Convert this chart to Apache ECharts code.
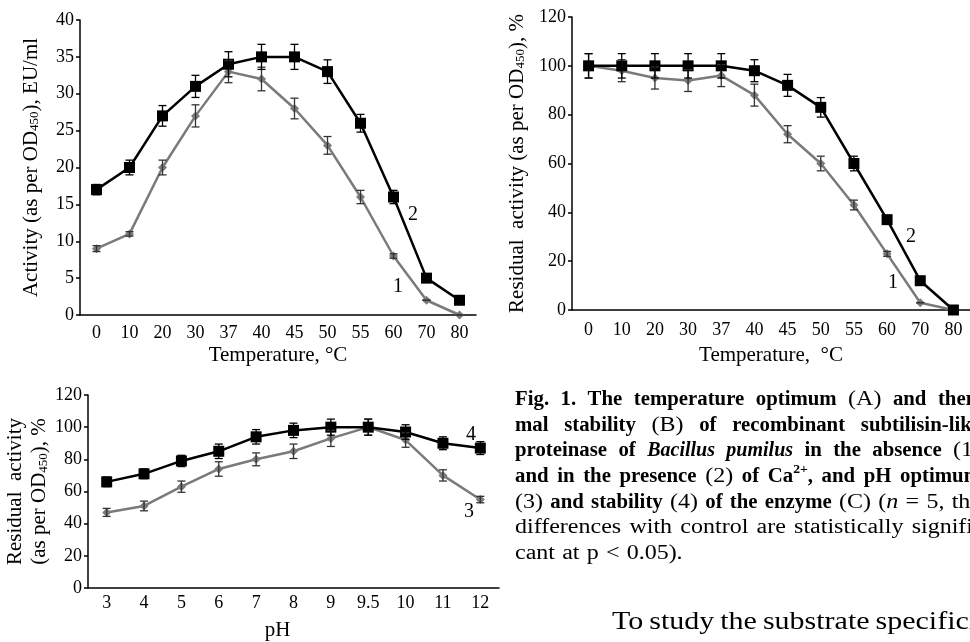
<!DOCTYPE html>
<html><head><meta charset="utf-8">
<script src="https://cdn.jsdelivr.net/npm/echarts@6/dist/echarts.min.js"></script>
<style>html,body{margin:0;padding:0;background:#fff;}#c{width:970px;height:642px;}</style>
</head><body><div id="c"></div>
<script>
// ---------- data ----------
const tempCats = ['0','10','20','30','37','40','45','50','55','60','70','80'];
const optNoCa = [9,11,20,27,33,32,28,23,16,8,2,0];
const optNoCaErr = [0.4,0.3,1,1.5,1.5,1.6,1.4,1.2,0.9,0.3,0,0];
const optCa = [17,20,27,31,34,35,35,33,26,16,5,2];
const optCaErr = [0.7,1,1.4,1.5,1.7,1.7,1.7,1.6,1.2,0.9,0,0];
const stabNoCa = [100,98,95,94,96,88,72,60,43,23,3,0];
const stabNoCaErr = [5,4.5,4.5,4.5,4.5,4.5,3.5,3,2,1,0,0];
const stabCa = [100,100,100,100,100,98,92,83,60,37,12,0];
const stabCaErr = [5,5,5,5,5,4.5,4.5,4,3,1,0,0];
const phCats = ['3','4','5','6','7','8','9','9.5','10','11','12'];
const phOpt = [47,51,63,74,80,85,93,100,92,70,55];
const phOptErr = [2.5,3,3.5,4.5,4,4.5,5,5,4.5,3.5,2];
const phStab = [66,71,79,85,94,98,100,100,97,90,87];
const phStabErr = [3,3,3.5,4.5,4.5,4.5,5,5,4.5,4,4];

const SERIF = '"Liberation Serif","Times New Roman",serif';
const BLACK = '#000';
const GREY = '#7a7a7a';

function errData(vals, errs){ return vals.map((v,i)=>[i, v-errs[i], v+errs[i]]); }
function errSeries(idx, vals, errs, color){
  return {
    type:'custom', xAxisIndex:idx, yAxisIndex:idx, z:5, silent:true,
    data: errData(vals, errs),
    renderItem:function(params, api){
      const x = api.value(0);
      const lo = api.coord([x, api.value(1)]);
      const hi = api.coord([x, api.value(2)]);
      const h = 4;
      const st = {stroke:color, lineWidth:1.3};
      return {type:'group', children:[
        {type:'line', shape:{x1:lo[0],y1:lo[1],x2:hi[0],y2:hi[1]}, style:st},
        {type:'line', shape:{x1:lo[0]-h,y1:lo[1],x2:lo[0]+h,y2:lo[1]}, style:st},
        {type:'line', shape:{x1:hi[0]-h,y1:hi[1],x2:hi[0]+h,y2:hi[1]}, style:st}
      ]};
    }
  };
}
function lineSeries(idx, vals, color, symbol, size){
  return {type:'line', xAxisIndex:idx, yAxisIndex:idx, data:vals, symbol:symbol, symbolSize:size,
    lineStyle:{color:color, width:2.5}, itemStyle:{color:color}, z:3};
}
const tickLbl = {fontFamily:SERIF, fontSize:18, color:'#000'};
const NAME_SIZE = 21;
const nameStyle = {fontFamily:SERIF, fontSize:NAME_SIZE, color:'#000', lineHeight:24,
  rich:{sub:{fontFamily:SERIF, fontSize:13, color:'#000', padding:[8,0,0,0]}}};
function xAx(idx, cats, name, gap, margin, namePad){
  return {type:'category', gridIndex:idx, data:cats, name:name, nameLocation:'middle', nameGap:gap,
    nameTextStyle:{fontFamily:SERIF, fontSize:NAME_SIZE, color:'#000', padding:namePad || 0},
    axisLine:{lineStyle:{color:'#000', width:1.5}}, axisTick:{length:6, lineStyle:{color:'#000', width:1.5}},
    axisLabel:Object.assign({margin:margin, interval:0}, tickLbl), splitLine:{show:false}};
}
function yAx(idx, max, interval, name, gap){
  return {type:'value', gridIndex:idx, min:0, max:max, interval:interval, name:name, nameLocation:'middle', nameGap:gap,
    nameTextStyle:nameStyle,
    axisLine:{show:true, lineStyle:{color:'#000', width:1.5}}, axisTick:{show:true, length:4, lineStyle:{color:'#000', width:1.5}},
    axisLabel:Object.assign({margin:6}, tickLbl), splitLine:{show:false}};
}

// ---------- caption (justified) ----------
const capLines = [
  [[['b','Fig.']],[['b','1.']],[['b','The']],[['b','temperature']],[['b','optimum']],[['r','(A)']],[['b','and']],[['b','ther-']]],
  [[['b','mal']],[['b','stability']],[['r','(B)']],[['b','of']],[['b','recombinant']],[['b','subtilisin-like']]],
  [[['b','proteinase']],[['b','of']],[['bi','Bacillus']],[['bi','pumilus']],[['b','in']],[['b','the']],[['b','absence']],[['r','(1)']]],
  [[['b','and']],[['b','in']],[['b','the']],[['b','presence']],[['r','(2)']],[['b','of']],[['b','Ca'],['sup','2+'],['b',',']],[['b','and']],[['b','pH']],[['b','optimum']]],
  [[['r','(3)']],[['b','and']],[['b','stability']],[['r','(4)']],[['b','of']],[['b','the']],[['b','enzyme']],[['r','(C)']],[['r','('],['i','n']],[['r','=']],[['r','5,']],[['r','the']]],
  [[['r','differences']],[['r','with']],[['r','control']],[['r','are']],[['r','statistically']],[['r','signifi-']]],
  [[['r','cant']],[['r','at']],[['r','p']],[['r','<']],[['r','0.05).']]]
];
const bodyWords = ['To','study','the','substrate','specificity'];
const CAP_SIZE = 20;
const capStyles = {
  b:{fontWeight:'bold', fontStyle:'normal', fontSize:CAP_SIZE, dy:0, sx:1.04},
  r:{fontWeight:'normal', fontStyle:'normal', fontSize:CAP_SIZE, dy:0, sx:1.2},
  i:{fontWeight:'normal', fontStyle:'italic', fontSize:CAP_SIZE, dy:0, sx:1.2},
  bi:{fontWeight:'bold', fontStyle:'italic', fontSize:CAP_SIZE, dy:0, sx:1.0},
  sup:{fontWeight:'bold', fontStyle:'normal', fontSize:13, dy:-7, sx:1.05},
  body:{fontWeight:'normal', fontStyle:'normal', fontSize:25, dy:0, sx:1.2}
};
const mctx = document.createElement('canvas').getContext('2d');
function runW(r){ const s = capStyles[r[0]]; mctx.font = s.fontStyle+' '+s.fontWeight+' '+s.fontSize+'px '+SERIF; return mctx.measureText(r[1]).width*s.sx; }
const graphics = [];
function pushRun(r, x, y){
  const s = capStyles[r[0]];
  graphics.push({type:'text', x:x, y:y+s.dy, scaleX:s.sx, silent:true,
    style:{text:r[1], fill:'#000', fontFamily:SERIF, fontSize:s.fontSize, fontWeight:s.fontWeight, fontStyle:s.fontStyle, align:'left', verticalAlign:'middle'}});
}
const CAP_X = 515, CAP_Y0 = 400, CAP_DY = 25.6, CAP_W = 466;
capLines.forEach((line, li)=>{
  const widths = line.map(w=>w.reduce((s,r)=>s+runW(r),0));
  const total = widths.reduce((a,b)=>a+b,0);
  const justify = li < capLines.length-1;
  mctx.font = 'normal '+CAP_SIZE+'px '+SERIF;
  const sp = mctx.measureText(' ').width*1.2;
  const gap = justify ? Math.max(sp*0.6, (CAP_W-total)/(line.length-1)) : sp*1.2;
  let x = CAP_X;
  const y = CAP_Y0 + li*CAP_DY;
  line.forEach((w, wi)=>{
    let rx = x;
    w.forEach(r=>{ pushRun(r, rx, y); rx += runW(r); });
    x += widths[wi] + gap;
  });
});
// body text line (justified body column, cut at the right edge)
(function(){
  const ws = bodyWords.map(t=>['body', t]);
  const wd = ws.map(runW);
  const gap = Math.max(6, (261 - (wd[0]+wd[1]+wd[2]+wd[3]))/4);
  let x = 612;
  ws.forEach((r,i)=>{ pushRun(r, x, 622); x += wd[i] + gap; });
})();
// curve number labels
[['2',413,215],['1',398,287],['2',911,237],['1',893,283],['4',471,435],['3',469,512]].forEach(t=>{
  graphics.push({type:'text', x:t[1], y:t[2], silent:true,
    style:{text:t[0], fill:'#000', fontFamily:SERIF, fontSize:20, align:'center', verticalAlign:'middle'}});
});

const option = {
  animation:false,
  backgroundColor:'#fff',
  grid:[
    {left:80, top:20, width:396, height:295},
    {left:572, top:17, width:399, height:293},
    {left:88, top:395, width:411, height:198}
  ],
  xAxis:[
    xAx(0, tempCats, 'Temperature, °C', 30, 9),
    xAx(1, tempCats, 'Temperature,  °C', 35, 11),
    xAx(2, phCats, 'pH', 32, 6, [0,32,0,0])
  ],
  yAxis:[
    yAx(0, 40, 5, 'Activity (as per OD{sub|450}), EU/ml', 37),
    yAx(1, 120, 20, 'Residual  activity (as per OD{sub|450}), %', 43),
    yAx(2, 120, 20, 'Residual  activity\n(as per OD{sub|450}), %', 31)
  ],
  series:[
    lineSeries(0, optNoCa, GREY, 'diamond', 9),
    lineSeries(0, optCa, BLACK, 'rect', 11),
    errSeries(0, optNoCa, optNoCaErr, '#333'),
    errSeries(0, optCa, optCaErr, '#000'),
    lineSeries(1, stabNoCa, GREY, 'diamond', 9),
    lineSeries(1, stabCa, BLACK, 'rect', 11),
    errSeries(1, stabNoCa, stabNoCaErr, '#333'),
    errSeries(1, stabCa, stabCaErr, '#000'),
    lineSeries(2, phOpt, GREY, 'diamond', 9),
    lineSeries(2, phStab, BLACK, 'rect', 11),
    errSeries(2, phOpt, phOptErr, '#333'),
    errSeries(2, phStab, phStabErr, '#000')
  ],
  graphic:graphics
};
const chart = echarts.init(document.getElementById('c'), null, {renderer:'canvas'});
chart.setOption(option);
</script>
</body></html>
